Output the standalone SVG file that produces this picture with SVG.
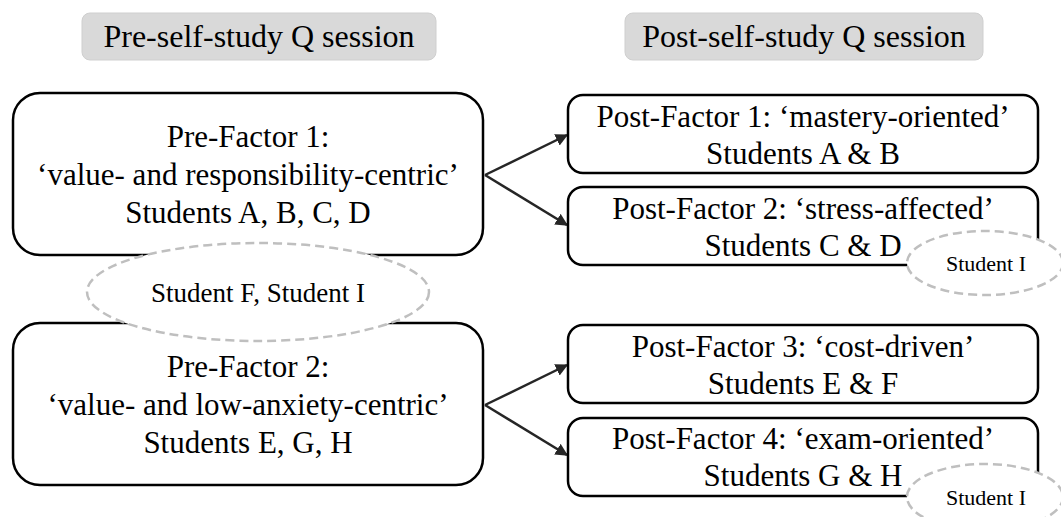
<svg xmlns="http://www.w3.org/2000/svg" width="1061" height="517" viewBox="0 0 1061 517">
<style>
text{font-family:"Liberation Serif","Times New Roman",serif;fill:#000;text-anchor:middle}
.h{font-size:32px}
.t{font-size:31px}
.s{font-size:27px}
.u{font-size:22px}
.hdr{fill:#d9d9d9;stroke:#cfcfcf;stroke-width:1}
.box{fill:#fff;stroke:#000;stroke-width:2.5}
.ell{fill:#fff;stroke:#bfbfbf;stroke-width:2.5;stroke-dasharray:9 5}
.arr{stroke:#262626;stroke-width:2.5;fill:none;marker-end:url(#ah)}
</style>
<defs>
<marker id="ah" viewBox="0 0 10 10" refX="9" refY="5" markerWidth="5" markerHeight="5" orient="auto" markerUnits="strokeWidth">
<path d="M0,0 L10,5 L0,10 z" fill="#262626"/>
</marker>
</defs>
<rect width="1061" height="517" fill="#fff"/>
<g id="hdr-pre">
<rect class="hdr" x="82" y="13" width="354" height="47" rx="8"/>
<text class="h" x="259" y="47">Pre-self-study Q session</text>
</g>
<g id="hdr-post">
<rect class="hdr" x="625" y="13" width="358" height="47" rx="8"/>
<text class="h" x="804" y="47">Post-self-study Q session</text>
</g>
<g id="connectors">
<line class="arr" x1="485" y1="175" x2="567" y2="135"/>
<line class="arr" x1="485" y1="175" x2="567" y2="225"/>
<line class="arr" x1="485" y1="405" x2="567" y2="365"/>
<line class="arr" x1="485" y1="405" x2="567" y2="455"/>
</g>
<g id="pre1">
<rect class="box" x="13" y="93" width="470" height="162" rx="27"/>
<text class="t" x="248" y="147">Pre-Factor 1:</text>
<text class="t" x="248" y="185">‘value- and responsibility-centric’</text>
<text class="t" x="248" y="223">Students A, B, C, D</text>
</g>
<g id="pre2">
<rect class="box" x="13" y="323" width="470" height="162" rx="27"/>
<text class="t" x="248" y="377">Pre-Factor 2:</text>
<text class="t" x="248" y="415">‘value- and low-anxiety-centric’</text>
<text class="t" x="248" y="453">Students E, G, H</text>
</g>
<g id="post1">
<rect class="box" x="568" y="95" width="470" height="78" rx="15"/>
<text class="t" x="803" y="127">Post-Factor 1: ‘mastery-oriented’</text>
<text class="t" x="803" y="164">Students A &amp; B</text>
</g>
<g id="post2">
<rect class="box" x="568" y="187" width="470" height="78" rx="15"/>
<text class="t" x="803" y="219">Post-Factor 2: ‘stress-affected’</text>
<text class="t" x="803" y="256">Students C &amp; D</text>
</g>
<g id="post3">
<rect class="box" x="568" y="325" width="470" height="78" rx="15"/>
<text class="t" x="803" y="357">Post-Factor 3: ‘cost-driven’</text>
<text class="t" x="803" y="394">Students E &amp; F</text>
</g>
<g id="post4">
<rect class="box" x="568" y="418" width="470" height="78" rx="15"/>
<text class="t" x="803" y="449">Post-Factor 4: ‘exam-oriented’</text>
<text class="t" x="803" y="486">Students G &amp; H</text>
</g>
<g id="shared-FI">
<ellipse class="ell" cx="258" cy="292" rx="171" ry="49"/>
<text class="s" x="258" y="302">Student F, Student I</text>
</g>
<g id="studentI-a">
<ellipse class="ell" cx="985" cy="263" rx="78" ry="32"/>
<text class="u" x="986" y="271">Student I</text>
</g>
<g id="studentI-b">
<ellipse class="ell" cx="985" cy="497" rx="78" ry="33"/>
<text class="u" x="986" y="505">Student I</text>
</g>
</svg>
